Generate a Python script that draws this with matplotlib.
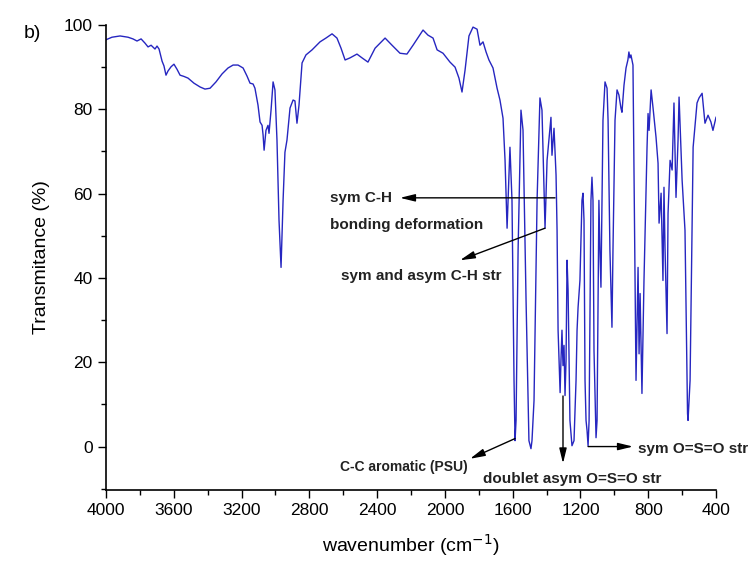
import matplotlib
matplotlib.use("Agg")
import matplotlib.pyplot as plt
from matplotlib.ticker import MultipleLocator

plt.rcParams["font.family"] = ["Liberation Sans", "DejaVu Sans"]

# FTIR spectrum
WAVENUMBER = [
    4000, 3965, 3917, 3870, 3841, 3817, 3793, 3770, 3752, 3734, 3711, 3699, 3687,
    3669, 3658, 3646, 3634, 3616, 3599, 3581, 3563, 3540, 3516, 3481, 3445, 3416,
    3386, 3351, 3315, 3280, 3250, 3221, 3191, 3168, 3150, 3132, 3121, 3103, 3091,
    3079, 3073, 3067, 3056, 3044, 3038, 3026, 3014, 3003, 2991, 2979, 2967, 2955,
    2944, 2932, 2914, 2896, 2885, 2873, 2861, 2843, 2820, 2784, 2737, 2702, 2666,
    2637, 2613, 2589, 2560, 2519, 2489, 2454, 2412, 2353, 2312, 2265, 2224, 2188,
    2129, 2100, 2070, 2046, 2011, 1970, 1940, 1917, 1899, 1881, 1858, 1834, 1810,
    1793, 1775, 1757, 1740, 1716, 1692, 1675, 1657, 1645, 1633, 1627, 1616, 1604,
    1592, 1586, 1580, 1568, 1551, 1539, 1521, 1504, 1492, 1486, 1474, 1456, 1439,
    1427, 1415, 1409, 1397, 1386, 1374, 1368, 1356, 1344, 1338, 1332, 1320, 1315,
    1309, 1303, 1297, 1291, 1285, 1279, 1273, 1262, 1250, 1238, 1226, 1220, 1214,
    1203, 1191, 1185, 1179, 1173, 1167, 1161, 1155, 1149, 1143, 1138, 1132, 1126,
    1120, 1108, 1102, 1096, 1091, 1085, 1079, 1073, 1067, 1055, 1043, 1037, 1026,
    1014, 1008, 996, 984, 973, 961, 955, 943, 931, 920, 914, 908, 902, 890, 880,
    872, 860, 854, 848, 837, 825, 807, 801, 795, 783, 772, 754, 742, 736, 724, 713,
    707, 701, 689, 683, 671, 659, 648, 636, 624, 618, 600, 583, 568, 565, 553, 535,
    512, 500, 482, 465, 447, 430, 418, 400,
]
TRANSMITTANCE = [
    96.5, 97.1, 97.4, 97.1, 96.7, 96.2, 96.7, 95.7, 94.8, 95.2, 94.3, 95.0, 94.3,
    91.4, 90.3, 88.1, 89.1, 90.1, 90.7, 89.5, 88.1, 87.8, 87.4, 86.2, 85.3, 84.8,
    85.0, 86.5, 88.4, 89.8, 90.5, 90.5, 89.8, 87.9, 86.2, 86.0, 85.0, 81.0, 77.0,
    76.2, 73.9, 70.3, 75.0, 76.2, 74.3, 79.8, 86.5, 84.6, 72.7, 53.7, 42.5, 58.4,
    69.8, 72.7, 80.3, 82.2, 82.0, 76.7, 81.0, 91.0, 92.9, 94.1, 96.0, 96.9, 97.9,
    96.9, 94.5, 91.7, 92.2, 93.1, 92.2, 91.2, 94.5, 96.9, 95.2, 93.3, 93.1, 95.2,
    98.8, 97.6, 96.9, 94.1, 93.3, 91.2, 90.0, 87.4, 84.1, 89.3, 97.4, 99.5, 99.0,
    95.2, 96.0, 93.6, 91.7, 89.8, 85.0, 82.2, 77.9, 67.9, 51.8, 58.4, 71.0, 58.4,
    15.7, 1.4, 6.2, 46.6, 79.8, 75.1, 34.7, 1.4, -0.5, 1.4, 10.9, 58.4, 82.7,
    79.8, 60.8, 51.8, 67.9, 72.7, 78.1, 69.1, 75.5, 64.4, 51.3, 27.6, 12.8, 20.4,
    27.6, 19.2, 24.0, 12.1, 20.4, 44.2, 37.1, 6.2, 0.2, 1.4, 15.7, 27.6, 33.0,
    39.4, 58.4, 60.1, 53.7, 15.7, 6.2, 3.8, 0.2, 6.2, 34.7, 58.4, 63.9, 58.4,
    22.8, 2.1, 6.2, 34.7, 58.4, 46.6, 37.8, 58.4, 77.4, 86.5, 85.0, 77.4, 46.6,
    28.3, 46.6, 77.4, 84.6, 83.4, 80.3, 79.3, 85.7, 89.8, 91.7, 93.6, 92.2, 92.9, 90.5, 50.0,
    15.7, 42.5, 22.0, 36.3, 12.6, 39.4, 71.0, 79.0, 75.0, 84.6, 80.5, 73.4, 67.2, 53.0, 60.1, 39.4,
    61.5, 47.3, 26.8, 55.3, 67.9, 65.6, 81.5, 59.1, 72.7, 82.9, 63.2, 51.3, 7.8, 6.2, 15.7, 71.0,
    81.5, 82.7, 83.8, 76.7, 78.6, 77.0, 75.0, 78.1,
]

LINE_COLOR = "#2626c0"


def main() -> None:
    fig = plt.figure(figsize=(7.54, 5.63), dpi=100)
    ax = fig.add_axes([0.1406, 0.1297, 0.809, 0.8259])
    ax.plot(WAVENUMBER, TRANSMITTANCE, color=LINE_COLOR, lw=1.0)

    ax.set_xlim(4000, 400)
    ax.set_ylim(-10.3, 100)
    ax.xaxis.set_major_locator(MultipleLocator(400))
    ax.xaxis.set_minor_locator(MultipleLocator(200))
    ax.yaxis.set_major_locator(MultipleLocator(20))
    ax.yaxis.set_minor_locator(MultipleLocator(10))
    ax.tick_params(which="major", direction="out", length=6, width=1.0, labelsize=12.5)
    ax.tick_params(which="minor", direction="out", length=3.5, width=1.0)
    for side in ("top", "right"):
        ax.spines[side].set_visible(False)
    for side in ("left", "bottom"):
        ax.spines[side].set_linewidth(1.2)

    ax.set_xlabel("wavenumber (cm$^{-1}$)", fontsize=14, labelpad=10)
    ax.set_ylabel("Transmitance (%)", fontsize=14, labelpad=10)
    fig.text(0.032, 0.932, "b)", fontsize=14)

    arrow = dict(arrowstyle="-|>,head_length=0.9,head_width=0.22", color="black", lw=1.0,
                 shrinkA=0, shrinkB=0)
    bold = dict(fontsize=11, fontweight="bold", color="#222222")

    ax.annotate("", xy=(2265, 59.0), xytext=(1350, 59.0), arrowprops=arrow)
    ax.text(2678, 59.0, "sym C-H", va="center", **bold)
    ax.text(2678, 52.5, "bonding deformation", va="center", **bold)

    ax.annotate("", xy=(1911, 44.2), xytext=(1409, 51.8), arrowprops=arrow)
    ax.text(2613, 40.4, "sym and asym C-H str", va="center", **bold)

    ax.annotate("", xy=(1852, -2.9), xytext=(1586, 1.9), arrowprops=arrow)
    ax.text(1866, -4.9, "C-C aromatic (PSU)", va="center", ha="right",
            fontsize=10, fontweight="bold", color="#222222")

    ax.annotate("", xy=(1303, -4.0), xytext=(1303, 12.0), arrowprops=arrow)
    ax.text(1775, -7.6, "doublet asym O=S=O str", va="center", **bold)

    ax.annotate("", xy=(890, 0.0), xytext=(1155, 0.0), arrowprops=arrow)
    ax.text(862, -0.5, "sym O=S=O str", va="center", **bold)

    fig.savefig("out.png", dpi=100)
    plt.close(fig)


if __name__ == "__main__":
    main()
